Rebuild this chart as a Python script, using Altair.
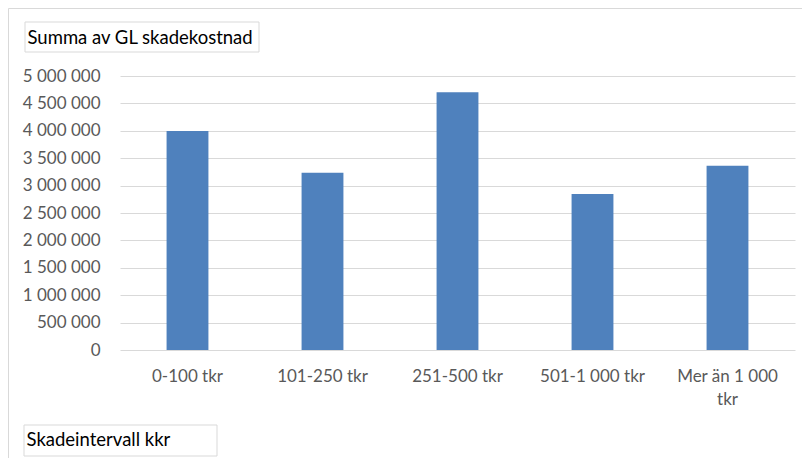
import altair as alt
import pandas as pd

categories = ["0-100 tkr", "101-250 tkr", "251-500 tkr", "501-1 000 tkr", "Mer än 1 000 tkr"]
values = [3995000, 3235000, 4703000, 2847000, 3363000]
y_ticks = [0, 500000, 1000000, 1500000, 2000000, 2500000, 3000000, 3500000, 4000000, 4500000, 5000000]
y_title = "Summa av GL skadekostnad"
x_title = "Skadeintervall kkr"

df = pd.DataFrame({"kategori": categories, "varde": values})

FONT = "Lato"
W, H = 675, 274

bars = alt.Chart(df).mark_bar(color="#4F81BD").encode(
    x=alt.X(
        "kategori:N",
        sort=categories,
        scale=alt.Scale(paddingInner=0.69, paddingOuter=0.345),
        axis=alt.Axis(
            title=x_title,
            titleX=-94,
            titleY=89,
            titleAlign="left",
            titleBaseline="middle",
            titleFont=FONT,
            titleFontSize=18.5,
            titleFontWeight="normal",
            titleColor="#000000",
            labelAngle=0,
            labelFont=FONT,
            labelFontSize=17,
            labelColor="#595959",
            labelPadding=18,
            labelLineHeight=23,
            labelBaseline="top",
            labelExpr="datum.label == 'Mer än 1 000 tkr' ? ['Mer än 1 000', 'tkr'] : datum.label",
            ticks=False,
            domain=False,
        ),
    ),
    y=alt.Y(
        "varde:Q",
        scale=alt.Scale(domain=[0, 5000000], nice=False),
        axis=alt.Axis(
            title=y_title,
            values=y_ticks,
            titleAngle=0,
            titleX=-93,
            titleY=-39,
            titleAlign="left",
            titleBaseline="middle",
            titleFont=FONT,
            titleFontSize=18.5,
            titleFontWeight="normal",
            titleColor="#000000",
            labelExpr="replace(format(datum.value, ','), regexp(',', 'g'), ' ')",
            labelFont=FONT,
            labelFontSize=17,
            labelColor="#595959",
            labelPadding=20,
            ticks=False,
            domain=False,
            grid=True,
            gridColor="#D9D9D9",
            gridWidth=1,
        ),
    ),
)

one = alt.Data(values=[{"k": 1}])

outer = alt.Chart(one).mark_rect(fill="transparent", stroke="#D9D9D9", strokeWidth=1).encode(
    x=alt.value(-111.5), x2=alt.value(720), y=alt.value(-67.5), y2=alt.value(420)
)
title_box = alt.Chart(one).mark_rect(fill="transparent", stroke="#D9D9D9", strokeWidth=1).encode(
    x=alt.value(-95), x2=alt.value(139), y=alt.value(-54), y2=alt.value(-24)
)
xtitle_box = alt.Chart(one).mark_rect(fill="transparent", stroke="#D9D9D9", strokeWidth=1).encode(
    x=alt.value(-96), x2=alt.value(97), y=alt.value(349), y2=alt.value(380)
)

chart = alt.layer(outer, title_box, xtitle_box, bars).properties(
    width=W,
    height=H,
    autosize=alt.AutoSizeParams(type="none"),
    padding={"left": 112, "top": 68, "right": 7, "bottom": 108},
    background="white",
).configure_view(stroke=None)

chart.save("out.html", embed_options={"renderer": "svg", "actions": False})
